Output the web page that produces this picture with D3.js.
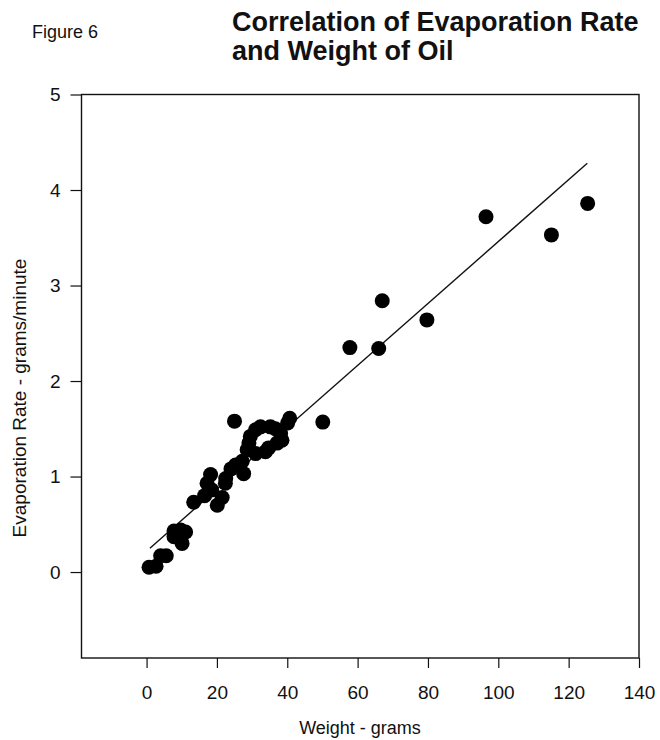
<!DOCTYPE html>
<html lang="en">
<head>
  <meta charset="UTF-8">
  <title>Correlation of Evaporation Rate and Weight of Oil</title>
  <script src="https://d3js.org/d3.v7.min.js"></script>
  <style>
    body {
      margin: 0;
      background: #fff;
      font-family: Arial, "Liberation Sans", sans-serif;
    }
    .tick text {
      font-family: Arial, "Liberation Sans", sans-serif;
      font-size: 19px;
      fill: #111;
    }
    .tick line {
      stroke: #111;
      stroke-width: 1.2;
    }
  </style>
</head>
<body>
  <div id="chart"></div>

  <script>
    // Data (weight in grams, evaporation rate in g/min)
    const weight = [0.7, 2.7, 4.0, 5.6, 7.8, 7.8, 9.7, 11.1, 10.1, 13.4,
                    16.5, 17.2, 18.2, 18.5, 20.1, 21.5, 22.4, 22.5, 24.0, 25.3,
                    27.2, 27.6, 25.0, 28.6, 29.1, 29.5, 31.0, 32.4, 35.2, 36.6,
                    38.1, 38.5, 37.1, 34.7, 33.8, 31.0, 40.1, 40.7, 50.1, 57.8,
                    66.0, 67.0, 79.7, 96.5, 115.1, 125.4];
    const rate = [0.05, 0.06, 0.17, 0.17, 0.37, 0.43, 0.44, 0.42, 0.30, 0.73,
                  0.80, 0.93, 1.02, 0.86, 0.70, 0.78, 0.93, 0.98, 1.08, 1.12,
                  1.16, 1.03, 1.58, 1.28, 1.35, 1.42, 1.49, 1.52, 1.52, 1.50,
                  1.45, 1.38, 1.35, 1.30, 1.26, 1.24, 1.56, 1.61, 1.57, 2.35,
                  2.34, 2.84, 2.64, 3.72, 3.53, 3.86];

    // Fitted line end points
    const fitX = [0.95, 125.3];
    const fitY = [0.25, 4.28];

    const xTicks = [0, 20, 40, 60, 80, 100, 120, 140];
    const yTicks = [0, 1, 2, 3, 4, 5];

    // Layout
    const width = 660;
    const height = 740;
    const plotLeft = 81.5, plotRight = 639, plotTop = 94.5, plotBottom = 658;

    const svg = d3.select("#chart")
      .append("svg")
      .attr("width", width)
      .attr("height", height);

    // Scales
    const x = d3.scaleLinear().domain([-18.5, 140]).range([plotLeft, plotRight]);
    const y = d3.scaleLinear().domain([-0.9, 5]).range([plotBottom, plotTop]);

    // Titles
    svg.append("text")
      .attr("x", 32)
      .attr("y", 38)
      .style("font-size", "18px")
      .style("fill", "#111")
      .text("Figure 6");

    const title = svg.append("text")
      .attr("x", 232)
      .attr("y", 31)
      .style("font-size", "27px")
      .style("font-weight", "bold")
      .style("fill", "#111");
    title.append("tspan").attr("x", 232).attr("dy", 0).text("Correlation of Evaporation Rate");
    title.append("tspan").attr("x", 232).attr("dy", 29).text("and Weight of Oil");

    // Axes
    const xAxis = svg.append("g")
      .attr("transform", `translate(0, ${plotBottom})`)
      .call(d3.axisBottom(x).tickValues(xTicks).tickSize(10).tickPadding(18).tickFormat(d3.format("d")));
    xAxis.select(".domain").remove();

    const yAxis = svg.append("g")
      .attr("transform", `translate(${plotLeft}, 0)`)
      .call(d3.axisLeft(y).tickValues(yTicks).tickSize(11).tickPadding(10).tickFormat(d3.format("d")));
    yAxis.select(".domain").remove();

    // Frame
    svg.append("rect")
      .attr("x", plotLeft)
      .attr("y", plotTop)
      .attr("width", plotRight - plotLeft)
      .attr("height", plotBottom - plotTop)
      .attr("fill", "none")
      .attr("stroke", "#111")
      .attr("stroke-width", 1.4);

    // Axis titles
    svg.append("text")
      .attr("x", 360)
      .attr("y", 734)
      .attr("text-anchor", "middle")
      .style("font-size", "18px")
      .style("fill", "#111")
      .text("Weight - grams");

    svg.append("text")
      .attr("transform", `translate(26, 398) rotate(-90)`)
      .attr("text-anchor", "middle")
      .style("font-size", "19px")
      .style("fill", "#111")
      .text("Evaporation Rate - grams/minute");

    // Fitted line
    svg.append("line")
      .attr("x1", x(fitX[0]))
      .attr("y1", y(fitY[0]))
      .attr("x2", x(fitX[1]))
      .attr("y2", y(fitY[1]))
      .attr("stroke", "#111")
      .attr("stroke-width", 1.4);

    // Points
    svg.selectAll(".dot")
      .data(weight.map((w, i) => [w, rate[i]]))
      .enter()
      .append("circle")
      .attr("class", "dot")
      .attr("cx", d => x(d[0]))
      .attr("cy", d => y(d[1]))
      .attr("r", 7.5)
      .style("fill", "#000");
  </script>
</body>
</html>
